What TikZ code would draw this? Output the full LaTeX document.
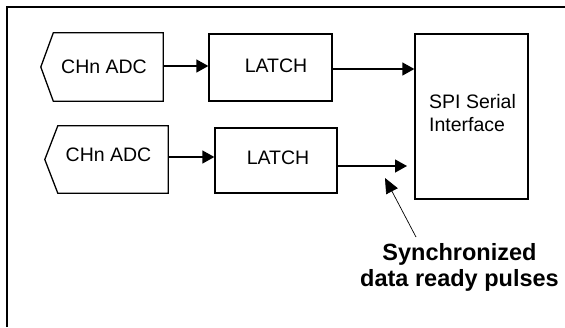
\documentclass[tikz,border=0pt]{standalone}
\usepackage{fontspec}
\setmainfont{Liberation Sans}
\usetikzlibrary{arrows.meta,calc}
\begin{document}
\begin{tikzpicture}[x=1pt,y=-1pt,
  boxline/.style={line width=1.3pt},
  blk/.style={boxline, draw, rectangle, inner sep=0pt},
  ghost/.style={rectangle, inner sep=0pt},
  lbl/.style={font=\fontsize{19.5}{22.5}\selectfont, inner sep=0pt},
  arr/.style={line width=1.3pt, -{Triangle[length=12pt,width=13pt]}},
  ptr/.style={line width=0.7pt, -{Triangle[length=15pt,width=13pt]}},
  note/.style={font=\bfseries\fontsize{23.5}{26}\selectfont, align=center, inner sep=0pt}
]
\useasboundingbox (0,0) rectangle (565,327);
\fill[white] (0,0) rectangle (565,327);
% frame (only top and left visible)
\coordinate (fbl) at (6.5,327);
\coordinate (ftl) at (6.5,6.5);
\coordinate (ftr) at (565,6.5);
\draw[line width=2pt] (fbl) -- (ftl) -- (ftr);
% ADC 1
\node[ghost, minimum width=122pt, minimum height=68pt] (adc1) at (102,67) {};
\draw[boxline] ($(adc1.north west)+(12.5,0)$) -- (adc1.north east) -- (adc1.south east)
  -- ($(adc1.south west)+(12.5,0)$) -- (adc1.west) -- cycle;
\node[lbl] (adc1t) at (104,66.5) {CHn ADC};
% ADC 2
\node[ghost, minimum width=123pt, minimum height=67pt] (adc2) at (106.5,159.5) {};
\draw[boxline] ($(adc2.north west)+(13,0)$) -- (adc2.north east) -- (adc2.south east)
  -- ($(adc2.south west)+(13,0)$) -- (adc2.west) -- cycle;
\node[lbl] (adc2t) at (108.5,155) {CHn ADC};
% LATCH 1
\node[blk, minimum width=123pt, minimum height=67pt] (latch1) at (270.5,67.5) {};
\node[lbl] (latch1t) at (276,65.5) {LATCH};
% LATCH 2
\node[blk, minimum width=122pt, minimum height=65pt] (latch2) at (276,160.5) {};
\node[lbl] (latch2t) at (278,158) {LATCH};
% SPI
\node[blk, minimum width=113pt, minimum height=165pt] (spi) at (471.5,116.5) {};
\node[lbl, align=left, anchor=west] (spit) at (429,113) {SPI Serial\\Interface};
% connectors
\draw[arr] (adc1.east |- 0,66) -- (latch1.west |- 0,66);
\draw[arr] (adc2.east |- 0,157) -- (latch2.west |- 0,157);
\draw[arr] (latch1.east |- 0,69) -- (spi.west |- 0,69);
\coordinate (a4end) at (407,166);
\draw[arr] (latch2.east |- a4end) -- (a4end);
% note
\node[note] (sync) at (459.5,267) {Synchronized\\data ready pulses};
\coordinate (ptail) at (416,237);
\coordinate (ptip) at (385,178);
\draw[ptr] (ptail) -- (ptip);
\end{tikzpicture}
\end{document}
